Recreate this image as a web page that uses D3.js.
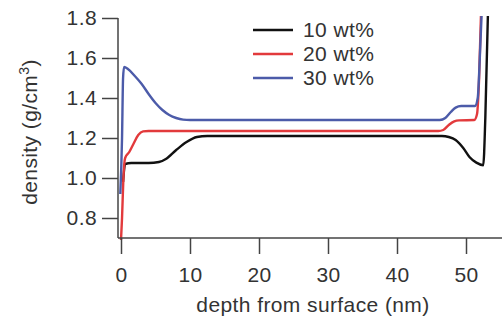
<!DOCTYPE html>
<html>
<head>
<meta charset="utf-8">
<script src="https://cdn.jsdelivr.net/npm/d3@7"></script>
<style>
  body { margin: 0; background: #fff; }
  svg text { font-family: "Liberation Sans", Arial, sans-serif; fill: #333; letter-spacing: 0.4px; }
</style>
</head>
<body>
<svg id="chart" width="502" height="320"></svg>
<script>
// series labels + colours
var seriesNames = ["10 wt%", "20 wt%", "30 wt%"];
var seriesColors = ["#111111", "#e23a3c", "#4c5ba9"];

// depth (nm), density (g/cm3)
var black10 = [
  [0.3, 0.98], [0.6, 1.07], [1.5, 1.075], [4, 1.075], [5.5, 1.08], [6.5, 1.095],
  [8, 1.14], [9.5, 1.18], [11, 1.205], [12.5, 1.21], [20, 1.21], [30, 1.21],
  [40, 1.21], [46.5, 1.21], [47.5, 1.205], [48.5, 1.19], [49.6, 1.15],
  [50.5, 1.105], [51.5, 1.077], [52.5, 1.064], [52.8, 1.3], [53.2, 1.85]
];
var red20 = [
  [0, 0.69], [0.15, 0.8], [0.35, 1.0], [0.6, 1.1], [1.2, 1.13], [1.8, 1.17],
  [2.5, 1.215], [3.2, 1.233], [4, 1.235], [20, 1.235], [30, 1.235], [46, 1.235],
  [46.7, 1.24], [47.5, 1.265], [48.3, 1.283], [49, 1.288], [51.2, 1.29],
  [51.6, 1.32], [51.9, 1.5], [52.2, 1.85]
];
var blue30 = [
  [-0.1, 0.92], [0.15, 1.2], [0.3, 1.5], [0.45, 1.555], [1, 1.545], [2, 1.51],
  [3, 1.47], [4, 1.42], [5, 1.375], [6, 1.34], [7, 1.315], [8, 1.3], [9, 1.292],
  [10, 1.29], [20, 1.29], [30, 1.29], [46.2, 1.29], [47, 1.3], [47.8, 1.33],
  [48.5, 1.352], [49.3, 1.36], [51.3, 1.36], [51.7, 1.4], [52, 1.6], [52.3, 1.85]
];
var seriesData = [black10, red20, blue30];

var xTicks = [0, 10, 20, 30, 40, 50];
var yTicks = [0.8, 1.0, 1.2, 1.4, 1.6, 1.8];

var svg = d3.select("#chart");

var x = d3.scaleLinear().domain([0, 55]).range([121, 500.5]);
var y = d3.scaleLinear().domain([0.7, 1.8]).range([238, 18]);

var axisColor = "#444";

// clip for the curves
svg.append("clipPath").attr("id", "plotclip")
  .append("rect").attr("x", 118).attr("y", 16).attr("width", 384).attr("height", 224);

var line = d3.line()
  .x(function(d) { return x(d[0]); })
  .y(function(d) { return y(d[1]); })
  .curve(d3.curveMonotoneX);

svg.append("g").attr("clip-path", "url(#plotclip)")
  .selectAll("path")
  .data(seriesData)
  .enter()
  .append("path")
  .attr("d", line)
  .attr("fill", "none")
  .attr("stroke", function(d, i) { return seriesColors[i]; })
  .attr("stroke-width", 2.4)
  .attr("stroke-linejoin", "round");

// y axis
var yAxis = d3.axisLeft(y).tickValues(yTicks).tickSize(16).tickPadding(5)
  .tickFormat(d3.format(".1f"));
var gy = svg.append("g").attr("transform", "translate(118,0)").call(yAxis);
gy.select(".domain").remove();
gy.append("line").attr("x1", 0).attr("x2", 0).attr("y1", y(1.8)).attr("y2", y(0.7));

// x axis
var xAxis = d3.axisBottom(x).tickValues(xTicks).tickSize(16).tickPadding(13);
var gx = svg.append("g").attr("transform", "translate(0," + y(0.7) + ")").call(xAxis);
gx.select(".domain").remove();
gx.append("line").attr("x1", 118).attr("x2", 502).attr("y1", 0).attr("y2", 0);

[gx, gy].forEach(function(g) {
  g.selectAll("line").attr("stroke", axisColor).attr("stroke-width", 1.5);
  g.selectAll("text").attr("font-size", 21).style("fill", "#333");
});

// axis titles
svg.append("text")
  .attr("x", 313).attr("y", 312)
  .attr("text-anchor", "middle")
  .attr("font-size", 21)
  .text("depth from surface (nm)");

var ylab = svg.append("text")
  .attr("transform", "translate(37,132) rotate(-90)")
  .attr("text-anchor", "middle")
  .attr("font-size", 21);
ylab.append("tspan").text("density (g/cm");
ylab.append("tspan").attr("font-size", 14).attr("dy", -8).text("3");
ylab.append("tspan").attr("dy", 8).text(")");

// legend
var legend = svg.append("g").selectAll("g")
  .data(seriesNames)
  .enter()
  .append("g")
  .attr("transform", function(d, i) { return "translate(253," + (30 + i * 24) + ")"; });
legend.append("line")
  .attr("x1", 0).attr("x2", 40)
  .attr("stroke", function(d, i) { return seriesColors[i]; })
  .attr("stroke-width", 2.4);
legend.append("text")
  .attr("x", 50).attr("y", 7)
  .attr("font-size", 21)
  .text(function(d) { return d; });
</script>
</body>
</html>
